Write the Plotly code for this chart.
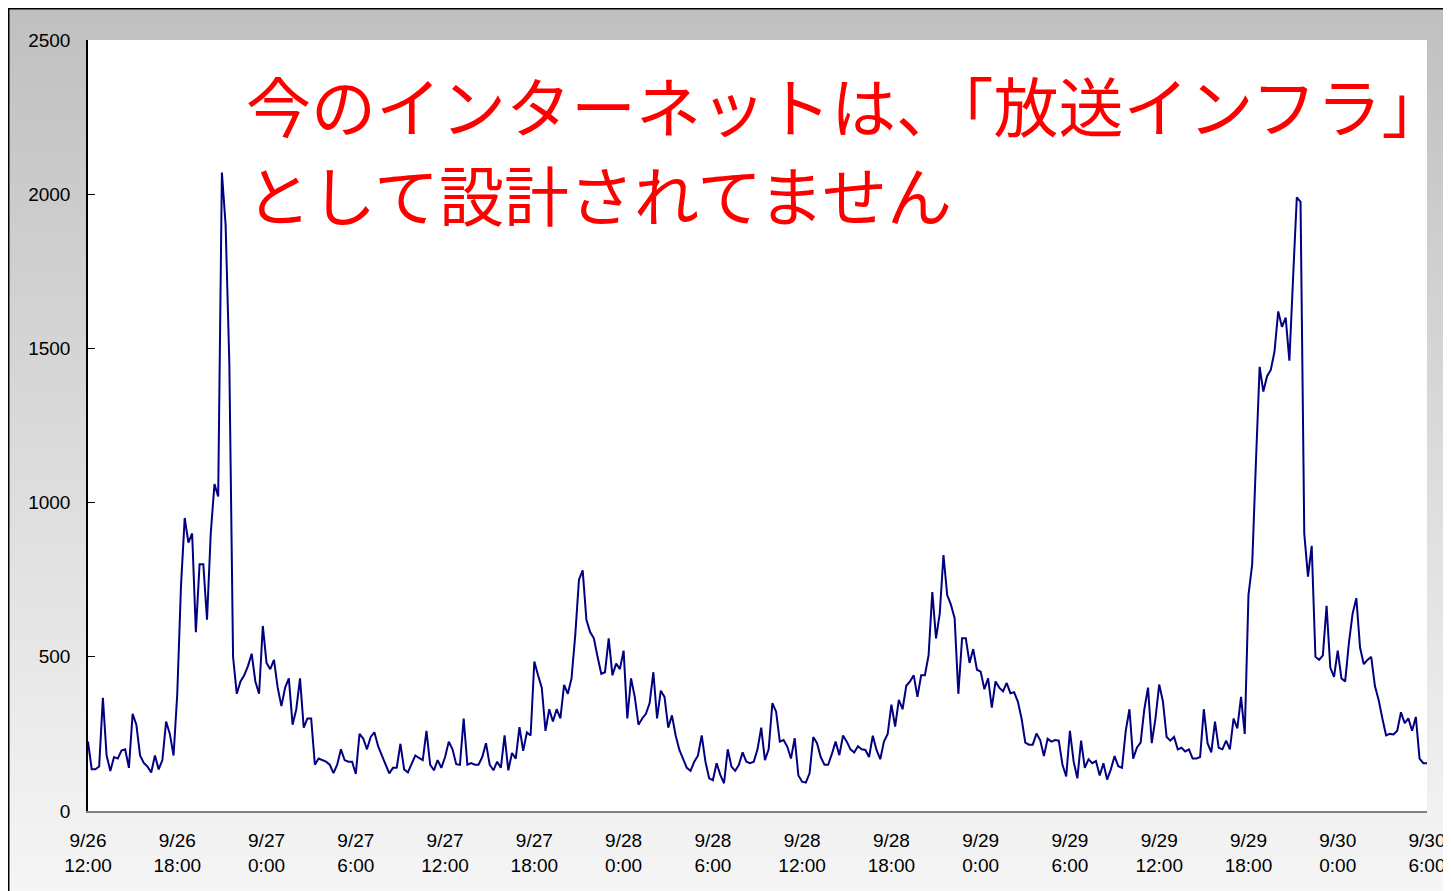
import base64
import struct
import zlib

import pandas as pd
import plotly.graph_objects as go

# 15-minute samples from 9/26 12:00 to 9/30 6:00, one row per hour
START = "2009-09-26 12:00"
VALUES = [
    225, 135, 135, 144,  367, 180, 130, 175,  170, 196, 200, 140,  315, 280, 180, 156,
    144, 125, 180, 135,  165, 290, 250, 180,  380, 730, 950, 870,  900, 580, 800, 800,
    620, 900, 1060, 1020,  2070, 1900, 1450, 500,  380, 420, 440, 470,  510, 420, 380, 600,
    480, 460, 490, 400,  340, 400, 430, 280,  330, 430, 270, 300,  300, 150, 170, 165,
    160, 150, 123, 150,  200, 165, 160, 160,  120, 250, 235, 200,  240, 255, 210, 180,
    150, 122, 140, 140,  218, 135, 125, 150,  180, 172, 165, 260,  150, 132, 165, 140,
    175, 225, 200, 152,  150, 300, 150, 155,  150, 150, 175, 220,  150, 132, 160, 140,
    245, 132, 188, 170,  272, 195, 255, 245,  485, 440, 400, 260,  330, 290, 330, 300,
    409, 380, 430, 570,  750, 780, 620, 580,  560, 500, 445, 450,  560, 440, 478, 460,
    520, 300, 430, 370,  280, 300, 315, 350,  450, 300, 390, 370,  270, 310, 245, 198,
    170, 140, 130, 160,  180, 245, 160, 106,  100, 155, 117, 90,  200, 144, 130, 150,
    190, 160, 155, 160,  200, 270, 165, 200,  350, 322, 225, 230,  209, 170, 236, 115,
    95, 92, 122, 240,  220, 175, 150, 150,  185, 225, 181, 245,  225, 200, 190, 210,
    200, 198, 175, 244,  198, 168, 225, 250,  345, 274, 360, 330,  406, 420, 440, 370,
    440, 440, 505, 710,  560, 640, 830, 700,  669, 625, 380, 560,  560, 480, 525, 458,
    452, 395, 430, 335,  420, 400, 388, 415,  382, 385, 355, 300,  222, 215, 215, 251,
    230, 178, 234, 225,  230, 228, 150, 112,  260, 160, 106, 228,  140, 168, 155, 162,
    115, 155, 102, 135,  178, 145, 140, 260,  330, 170, 205, 222,  330, 400, 220, 300,
    410, 355, 240, 228,  240, 200, 205, 193,  200, 170, 170, 175,  330, 220, 190, 290,
    205, 200, 228, 200,  300, 268, 370, 250,  700, 800, 1130, 1440,  1360, 1410, 1430, 1490,
    1620, 1570, 1600, 1460,  1730, 1990, 1975, 900,  760, 860, 500, 490,  505, 665, 465, 435,
    520, 430, 420, 544,  640, 690, 530, 476,  490, 500, 405, 360,  300, 245, 250, 248,
    260, 320, 285, 300,  260, 305, 170, 155,
    155,
]

TICK_TEXT = [
    "9/26<br>12:00", "9/26<br>18:00", "9/27<br>0:00", "9/27<br>6:00",
    "9/27<br>12:00", "9/27<br>18:00", "9/28<br>0:00", "9/28<br>6:00",
    "9/28<br>12:00", "9/28<br>18:00", "9/29<br>0:00", "9/29<br>6:00",
    "9/29<br>12:00", "9/29<br>18:00", "9/30<br>0:00", "9/30<br>6:00",
]
Y_TICKS = [0, 500, 1000, 1500, 2000, 2500]

TITLE_1 = "今のインターネットは、「放送インフラ」"
TITLE_2 = "として設計されてません"

# page body has an 8px margin, so the figure starts at (8, 8) of the window
W, H = 1451, 891
L, R, T, B = 80, 32, 32, 88


def gradient_png(top, bottom, n=256):
    rows = b""
    for i in range(n):
        f = i / (n - 1)
        px = bytes(int(round(a + (b - a) * f)) for a, b in zip(top, bottom))
        rows += b"\x00" + px

    def chunk(tag, data):
        c = struct.pack(">I", len(data)) + tag + data
        return c + struct.pack(">I", zlib.crc32(tag + data) & 0xFFFFFFFF)

    png = b"\x89PNG\r\n\x1a\n"
    png += chunk(b"IHDR", struct.pack(">IIBBBBB", 1, n, 8, 2, 0, 0, 0))
    png += chunk(b"IDAT", zlib.compress(rows))
    png += chunk(b"IEND", b"")
    return "data:image/png;base64," + base64.b64encode(png).decode()


times = pd.date_range(START, periods=len(VALUES), freq="15min")
tick_vals = pd.date_range(START, periods=len(TICK_TEXT), freq="6h")

pw, ph = W - L - R, H - T - B


def px_x(x):
    return (x - L) / pw


def px_y(y):
    return (H - B - y) / ph


fig = go.Figure()
fig.add_trace(go.Scatter(x=times, y=VALUES, mode="lines", line=dict(color="#000080", width=2), hoverinfo="x+y"))

fig.update_layout(
    width=W,
    height=H,
    margin=dict(l=L, r=R, t=T, b=B, pad=0),
    paper_bgcolor="#c0c0c0",
    plot_bgcolor="white",
    showlegend=False,
    font=dict(family="Liberation Sans, Arial, sans-serif", color="black"),
    images=[dict(
        source=gradient_png((192, 192, 192), (246, 246, 246)),
        xref="paper", yref="paper",
        x=px_x(0), y=px_y(0),
        sizex=px_x(W) - px_x(0), sizey=px_y(0) - px_y(H),
        xanchor="left", yanchor="top", sizing="stretch", layer="below",
    )],
    shapes=[
        dict(
            type="rect", xref="paper", yref="paper",
            x0=px_x(0.75), x1=px_x(W + 2), y0=px_y(H + 2), y1=px_y(0.75),
            line=dict(color="black", width=1.5), layer="below",
        ),
        dict(
            type="rect", xref="paper", yref="paper", x0=0, x1=1, y0=0, y1=1,
            fillcolor="white", line=dict(width=0), layer="below",
        ),
    ],
)

fig.update_xaxes(
    range=[times[0], times[-1]],
    tickvals=tick_vals, ticktext=TICK_TEXT,
    tickfont=dict(size=19), ticks="", ticklabelstandoff=11,
    showgrid=False, zeroline=False,
    showline=True, linecolor="#808080", linewidth=2,
)
fig.update_yaxes(
    range=[0, 2500], tickvals=Y_TICKS,
    tickfont=dict(size=19), ticks="inside", ticklen=7, tickcolor="black", tickwidth=1,
    ticklabelstandoff=12,
    showgrid=False, zeroline=False,
    showline=True, linecolor="black", linewidth=1.5,
)

for text, y in [(TITLE_1, 96), (TITLE_2, 185)]:
    fig.add_annotation(
        text=text, xref="paper", yref="paper", x=px_x(236), y=px_y(y),
        xanchor="left", yanchor="middle", showarrow=False,
        font=dict(family="Noto Sans CJK JP", size=65, color="#ff0000"),
    )

fig.write_html("out.html")
